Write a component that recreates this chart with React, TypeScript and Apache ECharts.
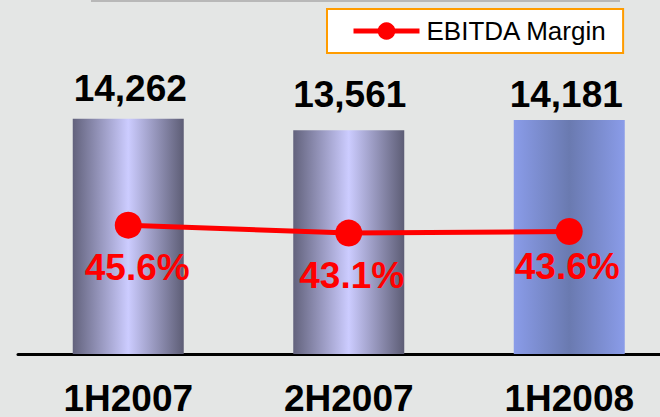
import React, { useEffect, useRef } from 'react';
import * as echarts from 'echarts';

const categories = ['1H2007', '2H2007', '1H2008'];
const ebitdaValues = [14262, 13561, 14181];
const marginValues = [45.6, 43.1, 43.6];
const lineName = 'EBITDA Margin';

// layout tweaks (not data)
const barLabelOffsets = [[2, -12], [1, -17], [-3, -7]];
const pctLabelOffsets = [[9, 42], [3, 42], [-2, 35]];

const FONT = '"Liberation Sans", Arial, sans-serif';

export default function App() {
  const ref = useRef<HTMLDivElement>(null);
  useEffect(() => {
    const chart = echarts.init(ref.current!, null, { renderer: 'svg' });
    const grayGrad = () =>
      new echarts.graphic.LinearGradient(0, 0, 1, 0, [
        { offset: 0, color: '#62627c' },
        { offset: 0.5, color: '#ccccff' },
        { offset: 1, color: '#5d5d75' },
      ]);
    const blueGrad = new echarts.graphic.LinearGradient(0, 0, 1, 0, [
      { offset: 0, color: '#8a9ce9' },
      { offset: 0.5, color: '#6a7ab0' },
      { offset: 1, color: '#8a9ce9' },
    ]);
    const barColors = [grayGrad(), grayGrad(), blueGrad];
    chart.setOption({
      animation: false,
      backgroundColor: '#e4e6e5',
      grid: { left: 18, top: 24, width: 661.5, height: 333, containLabel: false },
      legend: {
        data: [lineName],
        left: 327,
        top: 9,
        padding: [9, 16, 9, 24],
        itemWidth: 66,
        itemHeight: 22,
        itemGap: 0,
        backgroundColor: '#ffffff',
        borderColor: '#ff9c00',
        borderWidth: 2,
        lineStyle: { width: 5 },
        textStyle: { fontFamily: FONT, fontSize: 26, color: '#000', padding: [0, 0, 0, 2] },
      },
      xAxis: {
        type: 'category',
        data: categories,
        axisLine: { lineStyle: { color: '#000', width: 3 } },
        axisTick: { show: false },
        axisLabel: { fontFamily: FONT, fontSize: 37, fontWeight: 'bold', color: '#000', margin: 26 },
      },
      yAxis: [
        { type: 'value', min: 0, max: 20000, show: false, splitLine: { show: false } },
        { type: 'value', min: 5, max: 109, show: false, splitLine: { show: false } },
      ],
      graphic: [
        { type: 'line', shape: { x1: 91, y1: 1, x2: 620, y2: 1 }, style: { stroke: '#b8b8b8', lineWidth: 2 } },
      ],
      series: [
        {
          type: 'bar',
          barWidth: 111,
          data: ebitdaValues.map((v, i) => ({
            value: v,
            itemStyle: { color: barColors[i] },
            label: { offset: barLabelOffsets[i] },
          })),
          label: {
            show: true,
            position: 'top',
            distance: 0,
            fontFamily: FONT,
            fontSize: 37,
            fontWeight: 'bold',
            color: '#000',
            formatter: (p: any) => Number(p.value).toLocaleString('en-US'),
          },
        },
        {
          type: 'line',
          name: lineName,
          yAxisIndex: 1,
          symbol: 'circle',
          symbolSize: 27,
          itemStyle: { color: '#ff0000' },
          lineStyle: { color: '#ff0000', width: 5 },
          data: marginValues.map((v, i) => ({
            value: v,
            label: { offset: pctLabelOffsets[i] },
          })),
          label: {
            show: true,
            position: 'inside',
            fontFamily: FONT,
            fontSize: 37,
            fontWeight: 'bold',
            color: '#ff0000',
            formatter: (p: any) => Number(p.value).toFixed(1) + '%',
          },
        },
      ],
    });
    return () => chart.dispose();
  }, []);
  return (
    <div style={{ position: 'fixed', left: 0, top: 0, width: 660, height: 417, overflow: 'hidden', background: '#e4e6e5' }}>
      <div ref={ref} style={{ width: 680, height: 417 }} />
    </div>
  );
}
